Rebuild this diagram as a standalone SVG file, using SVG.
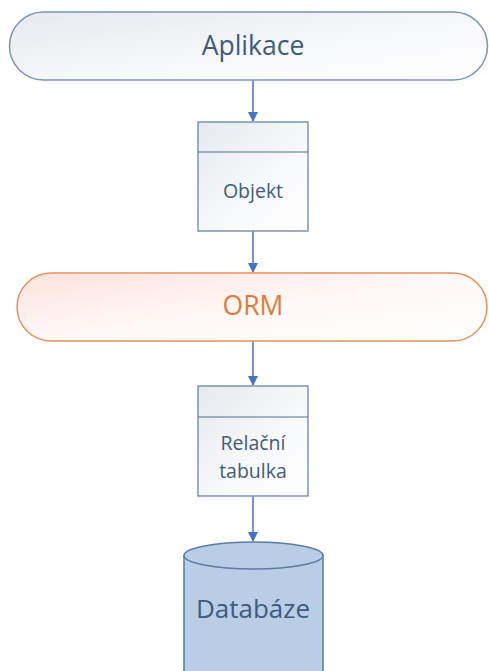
<svg xmlns="http://www.w3.org/2000/svg" width="489" height="671" viewBox="0 0 489 671">
<defs>
<linearGradient id="gGrey" x1="0" y1="0" x2="1" y2="1">
<stop offset="0" stop-color="#e6e9ee"/><stop offset="0.6" stop-color="#f8f9fb"/><stop offset="1" stop-color="#ffffff"/>
</linearGradient>
<linearGradient id="gPink" x1="0" y1="0" x2="1" y2="1">
<stop offset="0" stop-color="#fbe3dc"/><stop offset="0.5" stop-color="#fff8f6"/><stop offset="1" stop-color="#ffffff"/>
</linearGradient>
<marker id="arr" markerWidth="10" markerHeight="10" refX="9" refY="5" orient="auto" markerUnits="userSpaceOnUse">
<path d="M0,0 L10,5 L0,10 Z" fill="#4472c4"/>
</marker>
</defs>
<style>
.box{fill:url(#gGrey);stroke:#7a95b5;stroke-width:1.5}
.div{stroke:#4f6f96;stroke-width:1.2}
.conn{stroke:#4472c4;stroke-width:1.5;fill:none;marker-end:url(#arr)}
.t{font-family:"Open Sans","Noto Sans",sans-serif;text-anchor:middle;fill:#3e5c80}
</style>
<g id="connectors">
<line class="conn" x1="253" y1="80" x2="253" y2="121"/>
<line class="conn" x1="253" y1="231" x2="253" y2="272"/>
<line class="conn" x1="253" y1="341" x2="253" y2="385"/>
<line class="conn" x1="253" y1="496" x2="253" y2="541"/>
</g>
<g id="aplikace">
<rect x="9.5" y="12" width="478" height="68" rx="34" ry="34" fill="url(#gGrey)" stroke="#7a95b5" stroke-width="1.5"/>
<text class="t" x="253" y="55" font-size="26.5">Aplikace</text>
</g>
<g id="objekt">
<rect class="box" x="198" y="122" width="110" height="109"/>
<line class="div" x1="198" y1="152" x2="308" y2="152"/>
<text class="t" x="253" y="198" font-size="19.5">Objekt</text>
</g>
<g id="orm">
<rect x="17" y="273" width="470" height="68" rx="34" ry="34" fill="url(#gPink)" stroke="#e8925a" stroke-width="1.5"/>
<text x="253" y="315" font-size="26.5" text-anchor="middle" font-family="'Open Sans','Noto Sans',sans-serif" fill="#e07b39">ORM</text>
</g>
<g id="relacni">
<rect class="box" x="198" y="386" width="110" height="110"/>
<line class="div" x1="198" y1="417" x2="308" y2="417"/>
<text class="t" x="253" y="450" font-size="19.5">Relační</text>
<text class="t" x="253" y="478" font-size="19.5">tabulka</text>
</g>
<g id="databaze">
<path d="M184,555 L184,680 L323,680 L323,555" fill="#bacde6" stroke="#5a7ca5" stroke-width="1.5"/>
<ellipse cx="253.5" cy="555.5" rx="69.5" ry="13.5" fill="#bacde6" stroke="#5a7ca5" stroke-width="1.5"/>
<text class="t" x="253" y="618" font-size="26">Databáze</text>
</g>
</svg>
